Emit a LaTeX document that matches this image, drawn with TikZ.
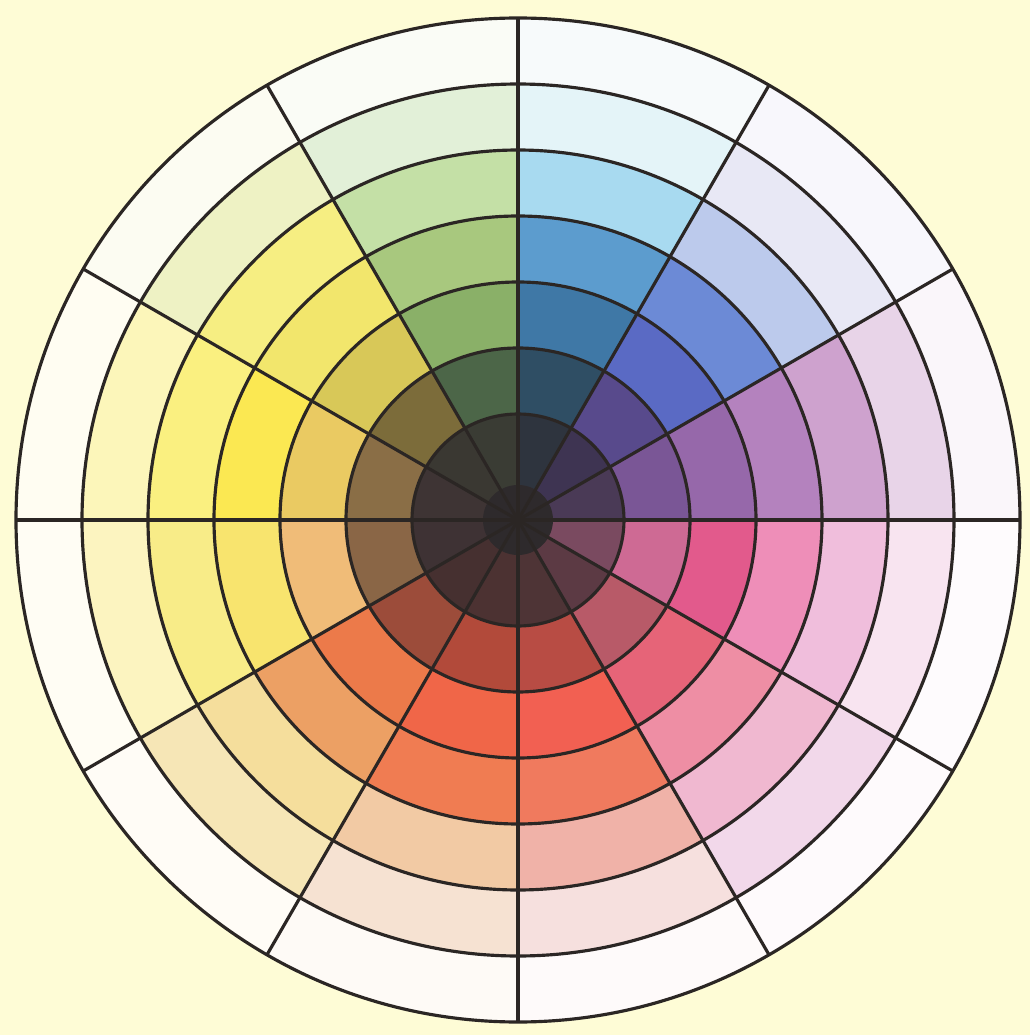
\documentclass[tikz,border=0pt]{standalone}
\usepackage{tikz}
\definecolor{paper}{HTML}{FEFCD6}
\definecolor{ink}{HTML}{2B2624}
\definecolor{core}{HTML}{2E2A2C}
\tikzset{ring/.style={ink,line width=0.9pt}}

\begin{document}
\begin{tikzpicture}
  \fill[paper] (0,0) rectangle (10.30,10.35);
  \begin{scope}[shift={(5.18,5.15)}]
  % bands of each hue, from the outside in
  \foreach \a/\cols in {
      0/{FAF6FA,E8D4E8,CEA2CE,B482BE,9668AA,7A5696,4A3A56},
     30/{F8F7FC,E8E8F5,BCCAEC,6C8AD6,5A6AC4,584A8C,3E3452},
     60/{F7FAFB,E4F4F8,A8DAF0,5C9CCE,3F78A6,2F4E64,2E343E},
     90/{FAFCF6,E2F0D8,C4E0A6,A8C87E,8AB068,4C6648,3A3C34},
    120/{FCFCF2,EEF2C4,F6EE82,F2E66C,D8C858,7C6C3A,3A3832},
    150/{FFFDF2,FCF6BA,FAF080,FBE852,EACA62,8A6E46,3E3434},
    180/{FFFDF4,FCF4C0,F8EC88,F8E46E,F0BC78,8A6646,3E3234},
    210/{FFFCF6,F6E6B6,F5DE9C,ECA064,EC7A4A,9C4C3A,463030},
    240/{FEFAF6,F6E2D2,F2CAA4,F07C52,F06648,B24A3A,4C3232},
    270/{FEFAFA,F6E0DE,F0B2A8,F07A5E,F26052,B84C44,4E3436},
    300/{FEFAFC,F2D8EA,F0B8D0,EE8EA4,E66478,B85A68,5C3A44},
    330/{FEFBFD,F8E4F0,F0BEDC,EE8EB8,E25A8C,CE6A94,7A4A60}}{
    \foreach \c [count=\i] in \cols {
      \definecolor{band}{HTML}{\c}
      \pgfmathsetmacro\r{5.02-0.66*(\i-1)}
      \fill[band] (0,0) -- (\a:\r) arc[start angle=\a, end angle=\a+30, radius=\r] -- cycle;
    }
  }
  \fill[core] (0,0) circle (0.35);
  % rings and spokes
  \foreach \r in {1.06,1.72,2.38,3.04,3.70,4.36,5.02}
    \draw[ring] (0,0) circle (\r);
  \foreach \a in {0,30,...,330}
    \draw[ring] (0,0) -- (\a:5.02);
  \end{scope}
\end{tikzpicture}
\end{document}
